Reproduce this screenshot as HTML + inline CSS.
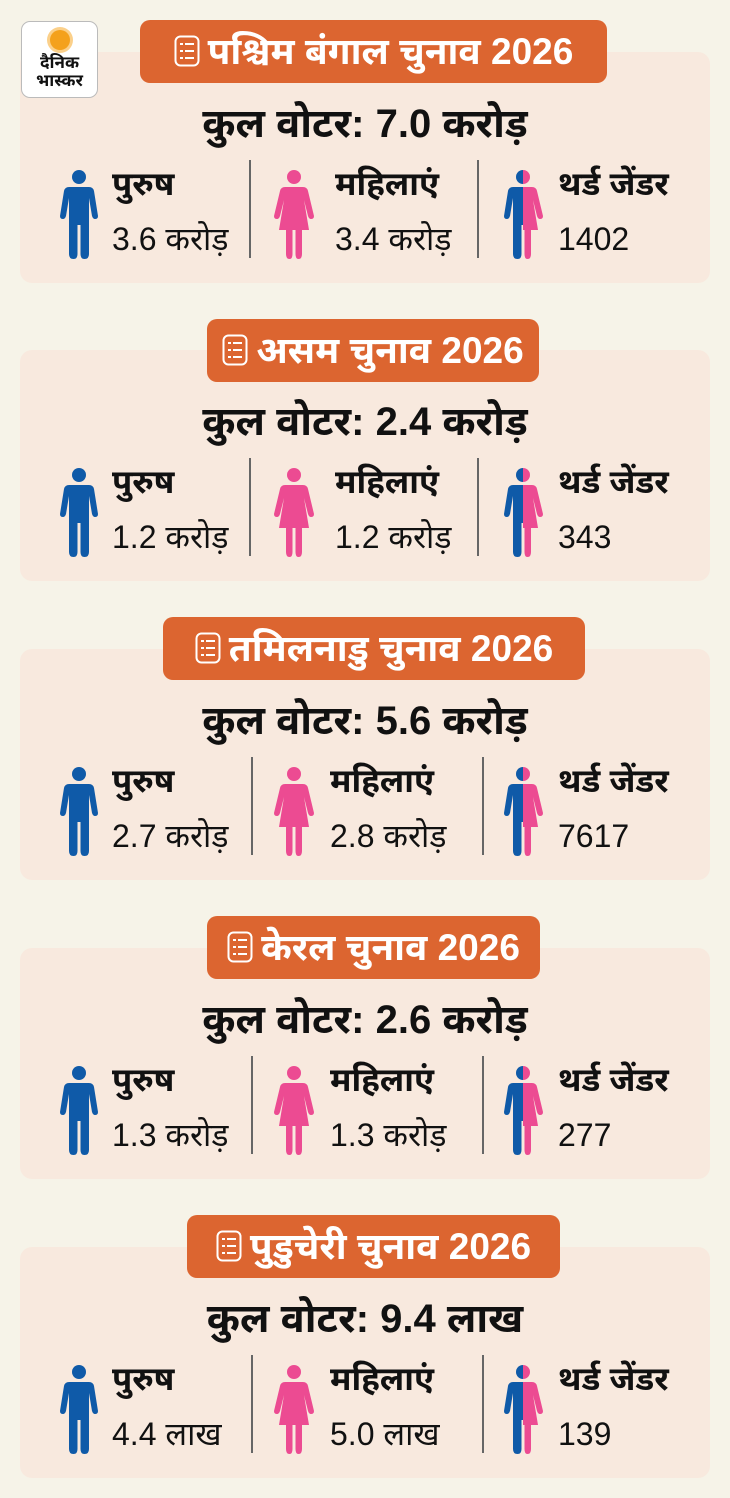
<!DOCTYPE html>
<html><head><meta charset="utf-8"><style>
*{margin:0;padding:0;box-sizing:border-box}
body{width:730px;height:1498px;background:#f6f3e8;position:relative;font-family:"Liberation Sans","Noto Sans Devanagari","Lohit Devanagari",sans-serif;overflow:hidden;color:#111}
.card{position:absolute;left:20px;width:690px;height:231px;background:#f8e9de;border-radius:12px}
.pill{position:absolute;height:63px;background:#dc6530;border-radius:10px;color:#fff;font-weight:bold;font-size:37px;line-height:63px;text-align:center;white-space:nowrap}
.pill svg{vertical-align:middle;margin-right:8px;position:relative;top:-3px}
.tot{position:absolute;left:0;width:690px;text-align:center;font-weight:bold;font-size:40px;top:50px}
.lbl{position:absolute;font-weight:bold;font-size:33px;top:113px}
.val{position:absolute;font-size:32px;top:169px}
.div{position:absolute;width:2px;height:98px;top:108px;background:#666}
.ic{position:absolute;top:118px}
.logo{position:absolute;left:21px;top:21px;width:77px;height:77px;background:#fff;border:1px solid #bbb;border-radius:9px;text-align:center;font-weight:bold;font-size:17px;line-height:18px;padding-top:32px;z-index:2}
.sun{position:absolute;left:28px;top:8px;width:20px;height:20px;border-radius:50%;background:#f4a11c;box-shadow:0 0 0 3px #fbd08a}
</style></head><body>
<div class="logo"><div class="sun"></div>दैनिक<br>भास्कर</div>
<svg width="0" height="0" style="position:absolute">
<defs>
<g id="man"><circle cx="18" cy="7" r="7"/><path d="M8 17H28Q32 17 33 21L37 46Q37 49 34 49Q32 49 31 46L28 28V84Q28 89 23.5 89Q19.5 89 19.5 84V55H16.5V84Q16.5 89 12.5 89Q8 89 8 84V28L5 46Q4 49 2 49Q-1 49 -1 46L3 21Q4 17 8 17Z"/></g>
<g id="woman"><circle cx="18" cy="7" r="7"/><path d="M9 17H27Q31 17 32 21L38 46Q38 49 35 49Q33 49 32 46L28 30L33 60H26V84Q26 89 22.5 89Q19.5 89 19.5 84V60H16.5V84Q16.5 89 13.5 89Q10 89 10 84V60H3L8 30L4 46Q3 49 1 49Q-2 49 -2 46L4 21Q5 17 9 17Z"/></g>
<clipPath id="lh"><rect x="-5" y="0" width="23" height="95"/></clipPath>
<clipPath id="rh"><rect x="18" y="0" width="25" height="95"/></clipPath>
<g id="lst"><rect x="1.5" y="1.5" width="23" height="29" rx="5" fill="none" stroke="#fff" stroke-width="2"/><g fill="#fff"><rect x="6" y="8" width="3" height="2"/><rect x="11" y="8" width="9" height="2"/><rect x="6" y="15" width="3" height="2"/><rect x="11" y="15" width="9" height="2"/><rect x="6" y="22" width="3" height="2"/><rect x="11" y="22" width="9" height="2"/></g></g>
</defs></svg>

<div class="card" style="top:52px">
 <div class="tot">कुल वोटर: 7.0 करोड़</div>
 <svg class="ic" style="left:41px" width="36" height="90" viewBox="0 0 36 90" overflow="visible"><use href="#man" fill="#0f5aa8"/></svg>
 <div class="lbl" style="left:92px">पुरुष</div><div class="val" style="left:92px">3.6 करोड़</div>
 <div class="div" style="left:229px"></div>
 <svg class="ic" style="left:256px" width="36" height="90" viewBox="0 0 36 90" overflow="visible"><use href="#woman" fill="#ec4b92"/></svg>
 <div class="lbl" style="left:315px">महिलाएं</div><div class="val" style="left:315px">3.4 करोड़</div>
 <div class="div" style="left:457px"></div>
 <svg class="ic" style="left:485px" width="36" height="90" viewBox="0 0 36 90" overflow="visible"><use href="#man" fill="#0f5aa8" clip-path="url(#lh)"/><use href="#woman" fill="#ec4b92" clip-path="url(#rh)"/></svg>
 <div class="lbl" style="left:538px">थर्ड जेंडर</div><div class="val" style="left:538px">1402</div>
</div>
<div class="pill" style="left:140px;top:20px;width:467px"><svg width="26" height="32" viewBox="0 0 26 32"><use href="#lst"/></svg>पश्चिम बंगाल चुनाव 2026</div>

<div class="card" style="top:350px">
 <div class="tot">कुल वोटर: 2.4 करोड़</div>
 <svg class="ic" style="left:41px" width="36" height="90" viewBox="0 0 36 90" overflow="visible"><use href="#man" fill="#0f5aa8"/></svg>
 <div class="lbl" style="left:92px">पुरुष</div><div class="val" style="left:92px">1.2 करोड़</div>
 <div class="div" style="left:229px"></div>
 <svg class="ic" style="left:256px" width="36" height="90" viewBox="0 0 36 90" overflow="visible"><use href="#woman" fill="#ec4b92"/></svg>
 <div class="lbl" style="left:315px">महिलाएं</div><div class="val" style="left:315px">1.2 करोड़</div>
 <div class="div" style="left:457px"></div>
 <svg class="ic" style="left:485px" width="36" height="90" viewBox="0 0 36 90" overflow="visible"><use href="#man" fill="#0f5aa8" clip-path="url(#lh)"/><use href="#woman" fill="#ec4b92" clip-path="url(#rh)"/></svg>
 <div class="lbl" style="left:538px">थर्ड जेंडर</div><div class="val" style="left:538px">343</div>
</div>
<div class="pill" style="left:207px;top:319px;width:332px"><svg width="26" height="32" viewBox="0 0 26 32"><use href="#lst"/></svg>असम चुनाव 2026</div>

<div class="card" style="top:649px">
 <div class="tot">कुल वोटर: 5.6 करोड़</div>
 <svg class="ic" style="left:41px" width="36" height="90" viewBox="0 0 36 90" overflow="visible"><use href="#man" fill="#0f5aa8"/></svg>
 <div class="lbl" style="left:92px">पुरुष</div><div class="val" style="left:92px">2.7 करोड़</div>
 <div class="div" style="left:231px"></div>
 <svg class="ic" style="left:256px" width="36" height="90" viewBox="0 0 36 90" overflow="visible"><use href="#woman" fill="#ec4b92"/></svg>
 <div class="lbl" style="left:310px">महिलाएं</div><div class="val" style="left:310px">2.8 करोड़</div>
 <div class="div" style="left:462px"></div>
 <svg class="ic" style="left:485px" width="36" height="90" viewBox="0 0 36 90" overflow="visible"><use href="#man" fill="#0f5aa8" clip-path="url(#lh)"/><use href="#woman" fill="#ec4b92" clip-path="url(#rh)"/></svg>
 <div class="lbl" style="left:538px">थर्ड जेंडर</div><div class="val" style="left:538px">7617</div>
</div>
<div class="pill" style="left:163px;top:617px;width:422px"><svg width="26" height="32" viewBox="0 0 26 32"><use href="#lst"/></svg>तमिलनाडु चुनाव 2026</div>

<div class="card" style="top:948px">
 <div class="tot">कुल वोटर: 2.6 करोड़</div>
 <svg class="ic" style="left:41px" width="36" height="90" viewBox="0 0 36 90" overflow="visible"><use href="#man" fill="#0f5aa8"/></svg>
 <div class="lbl" style="left:92px">पुरुष</div><div class="val" style="left:92px">1.3 करोड़</div>
 <div class="div" style="left:231px"></div>
 <svg class="ic" style="left:256px" width="36" height="90" viewBox="0 0 36 90" overflow="visible"><use href="#woman" fill="#ec4b92"/></svg>
 <div class="lbl" style="left:310px">महिलाएं</div><div class="val" style="left:310px">1.3 करोड़</div>
 <div class="div" style="left:462px"></div>
 <svg class="ic" style="left:485px" width="36" height="90" viewBox="0 0 36 90" overflow="visible"><use href="#man" fill="#0f5aa8" clip-path="url(#lh)"/><use href="#woman" fill="#ec4b92" clip-path="url(#rh)"/></svg>
 <div class="lbl" style="left:538px">थर्ड जेंडर</div><div class="val" style="left:538px">277</div>
</div>
<div class="pill" style="left:207px;top:916px;width:333px"><svg width="26" height="32" viewBox="0 0 26 32"><use href="#lst"/></svg>केरल चुनाव 2026</div>

<div class="card" style="top:1247px">
 <div class="tot">कुल वोटर: 9.4 लाख</div>
 <svg class="ic" style="left:41px" width="36" height="90" viewBox="0 0 36 90" overflow="visible"><use href="#man" fill="#0f5aa8"/></svg>
 <div class="lbl" style="left:92px">पुरुष</div><div class="val" style="left:92px">4.4 लाख</div>
 <div class="div" style="left:231px"></div>
 <svg class="ic" style="left:256px" width="36" height="90" viewBox="0 0 36 90" overflow="visible"><use href="#woman" fill="#ec4b92"/></svg>
 <div class="lbl" style="left:310px">महिलाएं</div><div class="val" style="left:310px">5.0 लाख</div>
 <div class="div" style="left:462px"></div>
 <svg class="ic" style="left:485px" width="36" height="90" viewBox="0 0 36 90" overflow="visible"><use href="#man" fill="#0f5aa8" clip-path="url(#lh)"/><use href="#woman" fill="#ec4b92" clip-path="url(#rh)"/></svg>
 <div class="lbl" style="left:538px">थर्ड जेंडर</div><div class="val" style="left:538px">139</div>
</div>
<div class="pill" style="left:187px;top:1215px;width:373px"><svg width="26" height="32" viewBox="0 0 26 32"><use href="#lst"/></svg>पुडुचेरी चुनाव 2026</div>
</body></html>
